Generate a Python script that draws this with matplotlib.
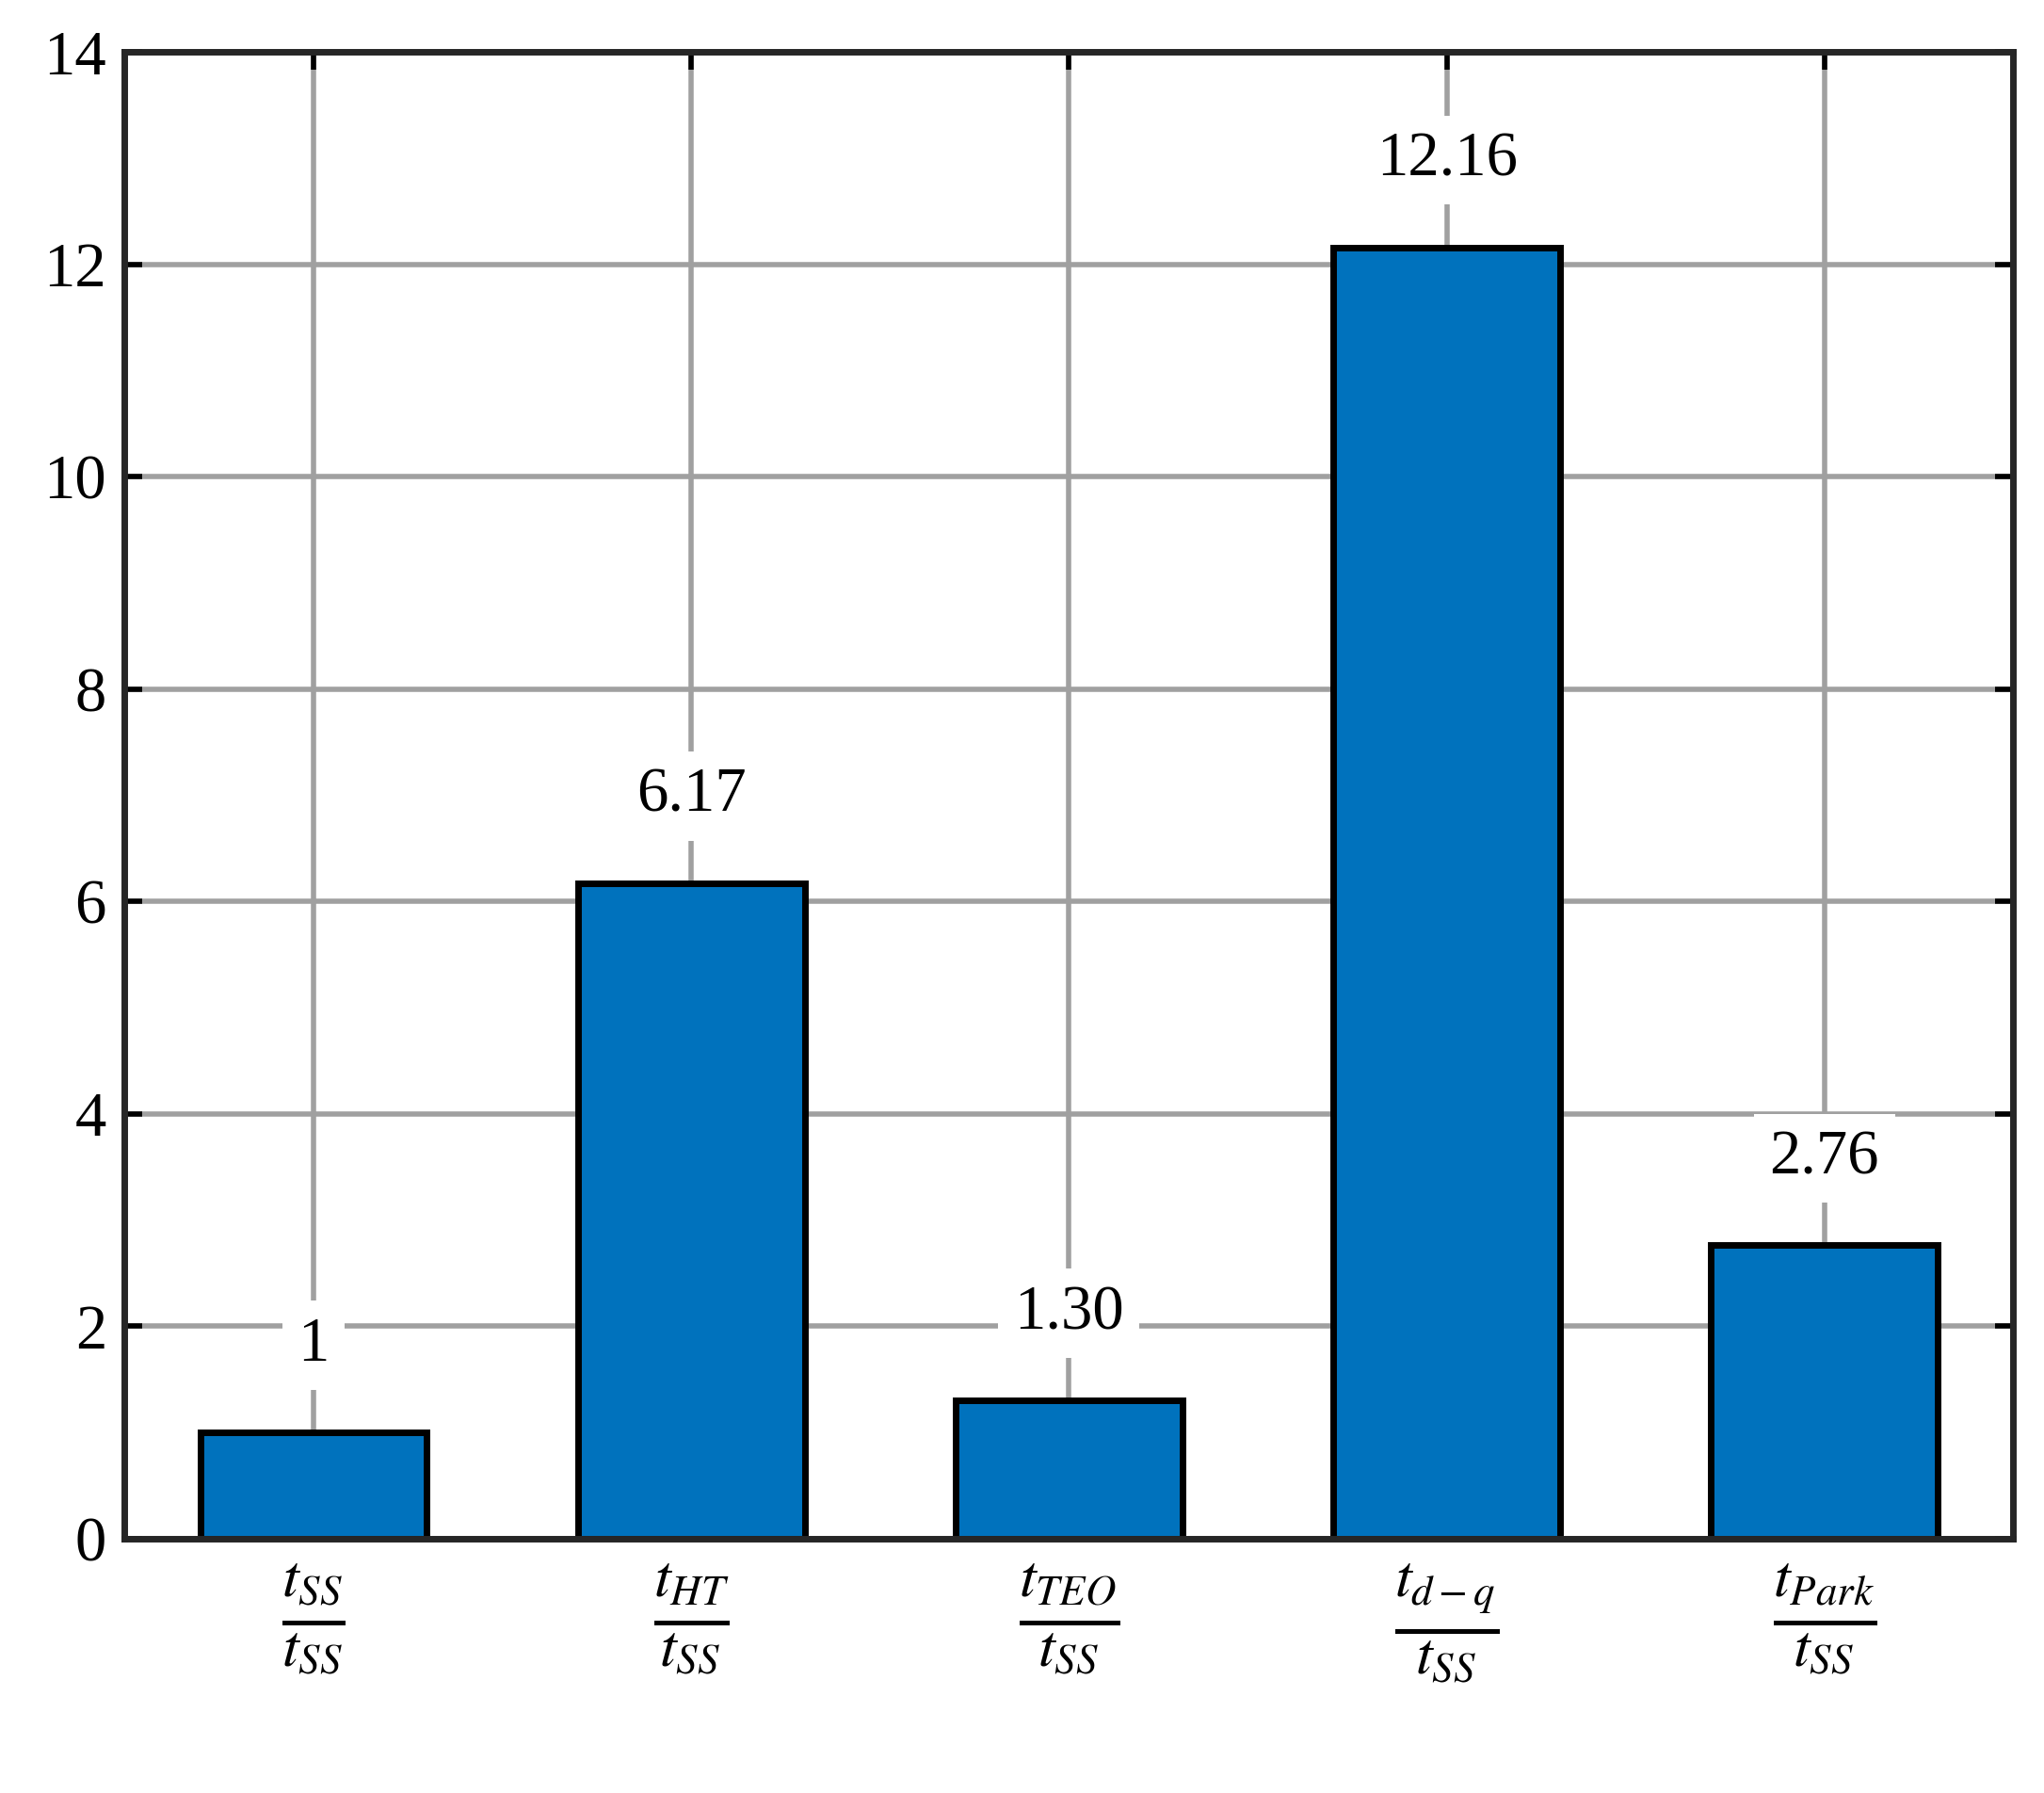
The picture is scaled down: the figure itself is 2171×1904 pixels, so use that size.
import matplotlib
matplotlib.use('Agg')
import matplotlib.pyplot as plt

categories = [r'$\frac{t_{SS}}{t_{SS}}$', r'$\frac{t_{HT}}{t_{SS}}$', r'$\frac{t_{TEO}}{t_{SS}}$',
              r'$\frac{t_{d-q}}{t_{SS}}$', r'$\frac{t_{Park}}{t_{SS}}$']
values = [1.0, 6.17, 1.30, 12.16, 2.76]
labels = ['1', '6.17', '1.30', '12.16', '2.76']
yticks = [0, 2, 4, 6, 8, 10, 12, 14]

plt.rcParams['font.family'] = ['Liberation Serif', 'DejaVu Serif']
plt.rcParams['mathtext.fontset'] = 'stix'

fig = plt.figure(figsize=(21.71, 19.04), dpi=100)
ax = fig.add_axes([0.061, 0.142, 0.924, 0.829])
x = list(range(len(values)))
ax.set_axisbelow(True)
ax.grid(True, color='#a0a0a0', linewidth=4, zorder=0)
ax.bar(x, values, width=0.6, color='#0072bd', edgecolor='black', linewidth=5, zorder=2)
for xi, v, l in zip(x, values, labels):
    ax.text(xi, v + 0.55, l, ha='center', va='bottom', fontsize=48, zorder=3,
            bbox=dict(facecolor='white', edgecolor='none', pad=12))
ax.set_xlim(-0.5, 4.5)
ax.set_ylim(0, 14)
ax.set_yticks(yticks)
ax.set_xticks(x)
ax.set_xticklabels(categories, fontsize=66)
ax.tick_params(axis='y', labelsize=48, direction='in', length=14, width=4, right=True, pad=14)
ax.tick_params(axis='x', direction='in', length=14, width=4, top=True, pad=18)
for s in ax.spines.values():
    s.set_linewidth(5)
    s.set_color('#262626')
fig.savefig('out.png', dpi=100)
